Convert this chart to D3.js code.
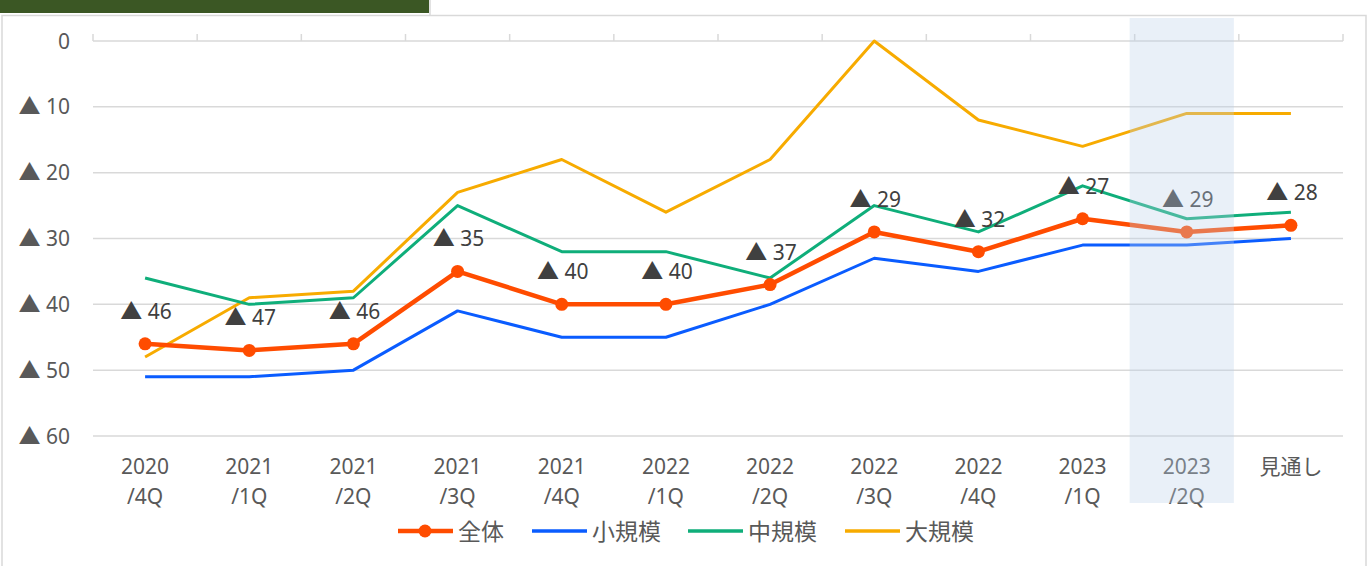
<!DOCTYPE html>
<html>
<head>
<meta charset="utf-8">
<script src="https://cdn.jsdelivr.net/npm/d3@7"></script>
<style>
  body { margin: 0; background: #fff; }
  svg { display: block; font-family: "Noto Sans", "Noto Sans CJK JP", sans-serif; }
  .tri { font-family: "Noto Sans CJK JP", sans-serif; }
</style>
</head>
<body>
<svg width="1370" height="566"></svg>
<script>
// categories and series (values are ▲ = negative DI, shown as magnitudes)
var categories = ['2020\n/4Q', '2021\n/1Q', '2021\n/2Q', '2021\n/3Q', '2021\n/4Q', '2022\n/1Q',
  '2022\n/2Q', '2022\n/3Q', '2022\n/4Q', '2023\n/1Q', '2023\n/2Q', '見通し']
var zentai = [46, 47, 46, 35, 40, 40, 37, 29, 32, 27, 29, 28]
var small = [51, 51, 50, 41, 45, 45, 40, 33, 35, 31, 31, 30]
var medium = [36, 40, 39, 25, 32, 32, 36, 25, 29, 22, 27, 26]
var large = [48, 39, 38, 23, 18, 26, 18, 0, 12, 16, 11, 11]
var yTicks = [0, 10, 20, 30, 40, 50, 60]
var highlight = '2023\n/2Q'

var series = [
  { name: '全体', values: zentai, color: '#ff4c00', width: 4.5, marker: true },
  { name: '小規模', values: small, color: '#0a5cff', width: 3 },
  { name: '中規模', values: medium, color: '#0fae7a', width: 3 },
  { name: '大規模', values: large, color: '#f7ab00', width: 3 }
]

var svg = d3.select('svg')

// header bar and frame
svg.append('rect').attr('x', 2).attr('y', 15.5).attr('width', 1364).attr('height', 560)
  .attr('fill', '#fff').attr('stroke', '#d9d9d9').attr('stroke-width', 1.5)
svg.append('rect').attr('x', 0).attr('y', 0).attr('width', 429).attr('height', 13)
  .attr('fill', '#3b5724')
svg.append('line').attr('x1', 430).attr('x2', 430).attr('y1', 0).attr('y2', 15)
  .attr('stroke', '#d9d9d9').attr('stroke-width', 1.5)

// scales
var x = d3.scaleBand().domain(categories).range([93, 1343])
var y = d3.scaleLinear().domain([0, 60]).range([41, 436])
var cx = d => x(d) + x.bandwidth() / 2

// gridlines
svg.append('g').selectAll('line').data(yTicks.slice(1)).enter().append('line')
  .attr('x1', 93).attr('x2', 1343)
  .attr('y1', d => y(d)).attr('y2', d => y(d))
  .attr('stroke', '#d9d9d9').attr('stroke-width', 1.5)

// category axis at 0 (top), ticks upward
var axisTop = svg.append('g')
axisTop.append('line').attr('x1', 93).attr('x2', 1343).attr('y1', y(0)).attr('y2', y(0))
  .attr('stroke', '#d9d9d9').attr('stroke-width', 1.5)
axisTop.selectAll('line.tick').data(categories.concat(['end'])).enter().append('line')
  .attr('class', 'tick')
  .attr('x1', (d, i) => i < categories.length ? x(d) : 1343)
  .attr('x2', (d, i) => i < categories.length ? x(d) : 1343)
  .attr('y1', y(0)).attr('y2', y(0) - 7)
  .attr('stroke', '#d9d9d9').attr('stroke-width', 1.5)

// label with a CJK triangle mark
function triLabel(sel, v) {
  if (v === 0) { sel.text('0'); return }
  sel.append('tspan').attr('class', 'tri').attr('font-size', '1.05em').text('▲')
  sel.append('tspan').text(' ' + v)
}

// y labels
svg.append('g').selectAll('text').data(yTicks).enter().append('text')
  .attr('x', 70).attr('y', d => y(d) + 7.5)
  .attr('text-anchor', 'end')
  .attr('font-size', 21).attr('fill', '#595959')
  .each(function(d) { triLabel(d3.select(this), d) })

// x labels
var xl = svg.append('g').selectAll('text').data(categories).enter().append('text')
  .attr('text-anchor', 'middle').attr('font-size', 21).attr('fill', '#595959')
xl.each(function(d) {
  var parts = d.split('\n')
  var t = d3.select(this)
  parts.forEach((p, i) => {
    t.append('tspan').attr('x', cx(d)).attr('y', 474 + i * 30).text(p)
  })
})

// lines
var line = d3.line().x((d, i) => cx(categories[i])).y(d => y(d))
series.slice().reverse().forEach(s => {
  svg.append('path').datum(s.values).attr('d', line)
    .attr('fill', 'none').attr('stroke', s.color).attr('stroke-width', s.width)
    .attr('stroke-linejoin', 'round')
})
svg.append('g').selectAll('circle').data(zentai).enter().append('circle')
  .attr('cx', (d, i) => cx(categories[i])).attr('cy', d => y(d)).attr('r', 6.5)
  .attr('fill', '#ff4c00')

// data labels for 全体
svg.append('g').selectAll('text').data(zentai).enter().append('text')
  .attr('x', (d, i) => cx(categories[i]) + 1)
  .attr('y', d => y(d) - 25)
  .attr('text-anchor', 'middle').attr('font-size', 21).attr('fill', '#404040')
  .each(function(d) { triLabel(d3.select(this), d) })

// highlight band over the 2023/2Q column
svg.append('rect')
  .attr('x', x(highlight) - 5).attr('width', x.bandwidth())
  .attr('y', 18).attr('height', 485)
  .attr('fill', '#bcd2ea').attr('opacity', 0.33)

// legend
var legendX = [398, 532, 688, 845]
var lg = svg.append('g').selectAll('g').data(series).enter().append('g')
  .attr('transform', (d, i) => 'translate(' + legendX[i] + ',531)')
lg.append('line').attr('x1', 0).attr('x2', 55).attr('y1', 0).attr('y2', 0)
  .attr('stroke', d => d.color).attr('stroke-width', d => d.marker ? 4.5 : 3.5)
lg.filter(d => d.marker).append('circle').attr('cx', 27).attr('cy', 0).attr('r', 6.5)
  .attr('fill', d => d.color)
lg.append('text').attr('x', 60).attr('y', 8.5).attr('font-size', 23).attr('fill', '#595959')
  .text(d => d.name)
</script>
</body>
</html>
